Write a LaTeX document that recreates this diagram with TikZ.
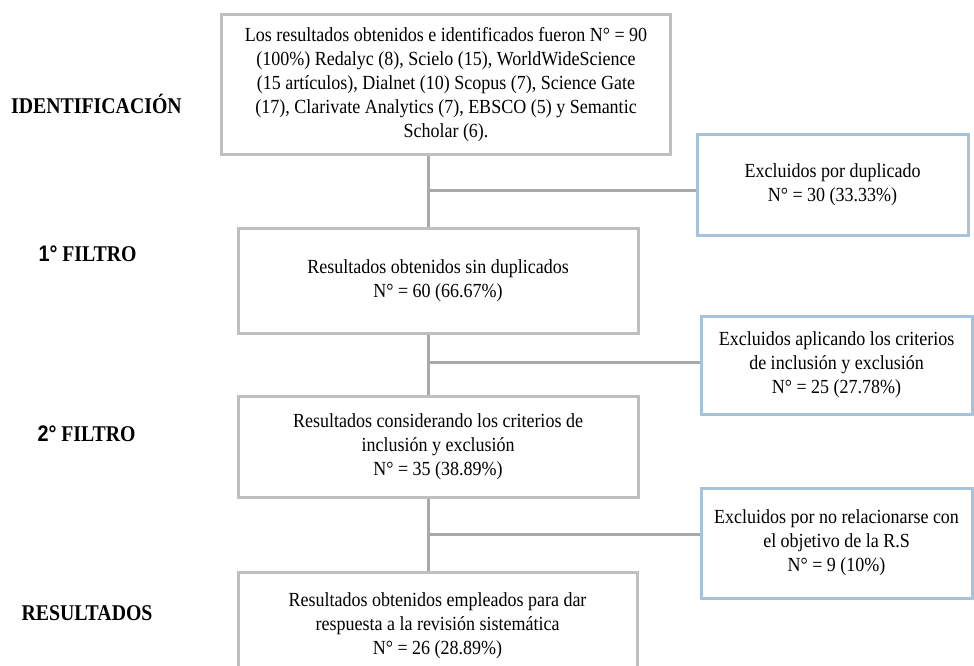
\documentclass[tikz,border=0pt]{standalone}
\usepackage{fontspec}
\setmainfont{Liberation Serif}
\newfontfamily\boxfont{Liberation Serif}[FakeStretch=0.9]
\newfontfamily\stagefont{Liberation Serif}[FakeStretch=0.88]
\newfontfamily\arialfont{Liberation Sans}[FakeStretch=0.88]
\definecolor{boxgray}{HTML}{BFBFBF}
\definecolor{linegray}{HTML}{A9A9A9}
\definecolor{boxblue}{HTML}{A7C3DC}
\begin{document}
\begin{tikzpicture}[x=1pt,y=-1pt,
  txt/.style={font=\boxfont\fontsize{20}{24}\selectfont, align=center, inner sep=0pt},
  mainbox/.style={txt, draw=boxgray, line width=3pt, fill=white},
  exbox/.style={txt, draw=boxblue, line width=3pt, fill=white},
  stage/.style={font=\stagefont\fontsize{22.5}{26}\selectfont\bfseries, inner sep=0pt},
  conn/.style={draw=linegray, line width=3pt}]
\useasboundingbox (0,0) rectangle (974,666);
\clip (0,0) rectangle (974,666);
\fill[white] (0,0) rectangle (974,666);

% stage labels
\node[stage] (lid) at (96.5,104) {IDENTIFICACIÓN};
\node[stage] (lf1) at (87.5,254) {{\arialfont\bfseries 1°} FILTRO};
\node[stage] (lf2) at (86.5,434) {{\arialfont\bfseries 2°} FILTRO};
\node[stage] (lres) at (87,613) {RESULTADOS};

% spine coordinates
\coordinate (sp) at (428,0);
\coordinate (j1) at (428,190);
\coordinate (j2) at (428,362);
\coordinate (j3) at (428,534);

\node[mainbox, minimum width=449pt, minimum height=140pt] (b1) at (446,84.5)
  {Los resultados obtenidos e identificados fueron N° = 90\\
   (100\%) Redalyc (8), Scielo (15), WorldWideScience\\
   (15 artículos), Dialnet (10) Scopus (7), Science Gate\\
   (17), Clarivate Analytics (7), EBSCO (5) y Semantic\\
   Scholar (6).};
\node[mainbox, minimum width=400pt, minimum height=105pt] (b2) at (438,280.5)
  {Resultados obtenidos sin duplicados\\ N° = 60 (66.67\%)};
\node[mainbox, minimum width=400pt, minimum height=101pt] (b3) at (438,446.5)
  {Resultados considerando los criterios de\\ inclusión y exclusión\\ N° = 35 (38.89\%)};
\node[mainbox, minimum width=399pt, minimum height=108pt] (b4) at (437.5,626)
  {Resultados obtenidos empleados para dar\\ respuesta a la revisión sistemática\\ N° = 26 (28.89\%)};

\node[exbox, minimum width=271pt, minimum height=100pt] (e1) at (832.5,185)
  {Excluidos por duplicado\\ N° = 30 (33.33\%)};
\node[exbox, minimum width=271pt, minimum height=98pt] (e2) at (836.5,365)
  {Excluidos aplicando los criterios\\ de inclusión y exclusión\\ N° = 25 (27.78\%)};
\node[exbox, minimum width=271pt, minimum height=110pt] (e3) at (836.5,543)
  {Excluidos por no relacionarse con\\ el objetivo de la R.S\\ N° = 9 (10\%)};

\draw[conn] (b1.south -| sp) -- (b2.north -| sp);
\draw[conn] (b2.south -| sp) -- (b3.north -| sp);
\draw[conn] (b3.south -| sp) -- (b4.north -| sp);
\draw[conn] (j1) -- (j1 -| e1.west);
\draw[conn] (j2) -- (j2 -| e2.west);
\draw[conn] (j3) -- (j3 -| e3.west);
\end{tikzpicture}
\end{document}
